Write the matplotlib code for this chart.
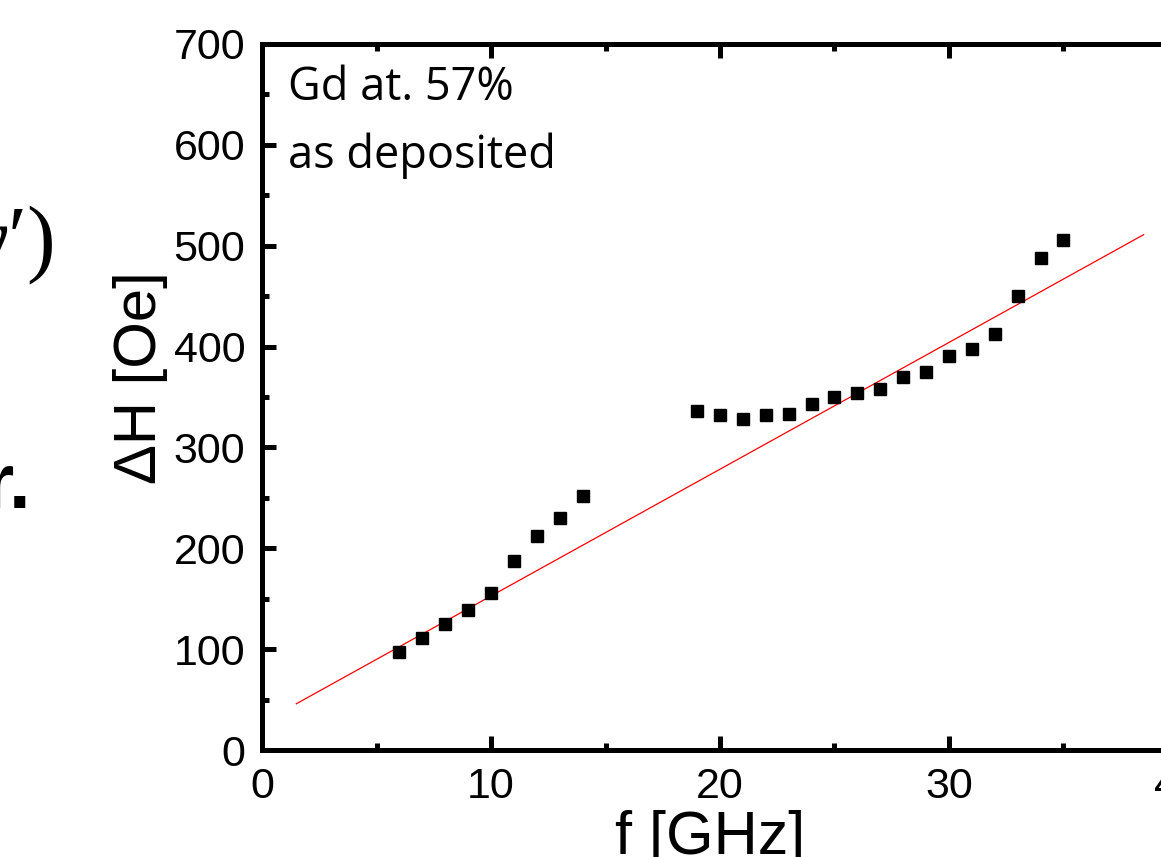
import numpy as np
import matplotlib
matplotlib.use('Agg')
from matplotlib import pyplot as plt
from matplotlib.ticker import MultipleLocator

# measured linewidth vs frequency
freq = [6, 7, 8, 9, 10, 11, 12, 13, 14,
        19, 20, 21, 22, 23, 24, 25, 26, 27, 28, 29, 30, 31, 32, 33, 34, 35]
dH = [97, 111, 125, 139, 156, 187, 212, 230, 252,
      336, 332, 328, 332, 333, 343, 350, 354, 358, 370, 375, 391, 398, 412, 450, 488, 506]

# linear fit drawn in red
fit_intercept = 27.0
fit_slope = 12.57
fit_range = [1.5, 38.5]

plt.rcParams['font.family'] = ['Liberation Sans', 'DejaVu Sans']

fig = plt.figure(figsize=(11.61, 8.57), dpi=100)
W, H = 1161, 857
ax = fig.add_axes([262/W, 1-750/H, 916/W, 706/H])

fx = np.array(fit_range)
ax.plot(fx, fit_intercept + fit_slope*fx, color='red', lw=0.9, zorder=2)
ax.plot(freq, dH, ls='none', marker='s', ms=8, color='black', zorder=3)

ax.set_xlim(0, 40)
ax.set_ylim(0, 700)
ax.xaxis.set_major_locator(MultipleLocator(10))
ax.xaxis.set_minor_locator(MultipleLocator(5))
ax.yaxis.set_major_locator(MultipleLocator(100))
ax.yaxis.set_minor_locator(MultipleLocator(50))

for s in ax.spines.values():
    s.set_linewidth(3.6)
ax.tick_params(which='both', direction='in', top=True, right=True, width=3.6)
ax.tick_params(which='major', length=10)
ax.tick_params(which='minor', length=5)
ax.tick_params(axis='y', labelsize=31, pad=12)
ax.tick_params(axis='x', labelsize=31, pad=12)

ax.set_xlabel('f [GHz]', fontsize=44)
ax.xaxis.set_label_coords(0.489, -0.085)
ax.set_ylabel('\u0394H [Oe]', fontsize=43)
ax.yaxis.set_label_coords(-0.103, 0.527)

ax.text(288/W, 1-100/H, 'Gd at. 57%', transform=fig.transFigure,
        fontsize=32.5, family=['Open Sans', 'DejaVu Sans'], va='baseline')
ax.text(288/W, 1-168/H, 'as deposited', transform=fig.transFigure,
        fontsize=32.5, family=['Open Sans', 'DejaVu Sans'], va='baseline')

# fragments of neighbouring slide content, cut by the crop
fig.text(56/W, 1-245/H, '\u03b3\u2032)', fontsize=62, va='center', ha='right',
         family=['Liberation Serif', 'DejaVu Serif'])
fig.text(31/W, 1-508/H, 'r.', fontsize=56, va='baseline', ha='right',
         weight='bold')

fig.savefig('out.png', dpi=100)
